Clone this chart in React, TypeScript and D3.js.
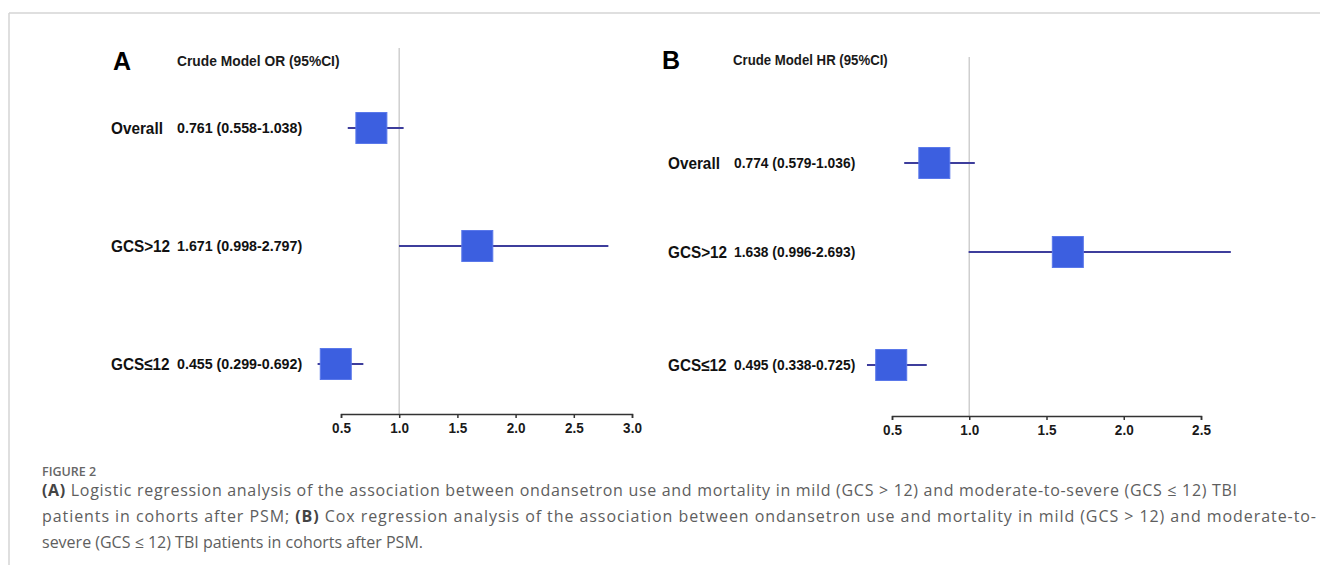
import React, { useRef, useEffect } from "react";
import * as d3 from "d3";

const rowLabels = ["Overall", "GCS>12", "GCS≤12"];

// panel A: logistic regression, odds ratios
const orEstimate = [0.761, 1.671, 0.455];
const orLower = [0.558, 0.998, 0.299];
const orUpper = [1.038, 2.797, 0.692];
const orTicks = [0.5, 1.0, 1.5, 2.0, 2.5, 3.0];

// panel B: cox regression, hazard ratios
const hrEstimate = [0.774, 1.638, 0.495];
const hrLower = [0.579, 0.996, 0.338];
const hrUpper = [1.036, 2.693, 0.725];
const hrTicks = [0.5, 1.0, 1.5, 2.0, 2.5];

const captionLines = [
  [
    { t: "(A)", b: true },
    {
      t: " Logistic regression analysis of the association between ondansetron use and mortality in mild (GCS > 12) and moderate-to-severe (GCS ≤ 12) TBI",
      b: false,
    },
  ],
  [
    { t: "patients in cohorts after PSM; ", b: false },
    { t: "(B)", b: true },
    {
      t: " Cox regression analysis of the association between ondansetron use and mortality in mild (GCS > 12) and moderate-to-",
      b: false,
    },
  ],
  [{ t: "severe (GCS ≤ 12) TBI patients in cohorts after PSM.", b: false }],
];

const W = 1320;
const H = 565;
const FONT = "'Liberation Sans', Arial, sans-serif";

interface PanelCfg {
  letter: string;
  title: string;
  est: number[];
  lo: number[];
  hi: number[];
  ticks: number[];
  range: [number, number];
  rowY: number[];
  letterX: number;
  titleX: number;
  titleY: number;
  labelX: number;
  valueX: number;
  refTop: number;
  axisY: number;
}

const panels: PanelCfg[] = [
  {
    letter: "A",
    title: "Crude Model OR (95%CI)",
    est: orEstimate,
    lo: orLower,
    hi: orUpper,
    ticks: orTicks,
    range: [341, 632],
    rowY: [128, 246, 364],
    letterX: 113,
    titleX: 177,
    titleY: 61,
    labelX: 111,
    valueX: 177,
    refTop: 48,
    axisY: 414,
  },
  {
    letter: "B",
    title: "Crude Model HR (95%CI)",
    est: hrEstimate,
    lo: hrLower,
    hi: hrUpper,
    ticks: hrTicks,
    range: [892, 1201],
    rowY: [163, 252, 365],
    letterX: 662,
    titleX: 733,
    titleY: 60,
    labelX: 668,
    valueX: 734,
    refTop: 57,
    axisY: 416,
  },
];

const fmt = d3.format(".3f");

// squeeze bold text a little, the original uses a narrow font
function condense(sel: d3.Selection<any, any, any, any>, k: number) {
  sel.each(function () {
    const node = this as SVGTextElement;
    const w = node.getComputedTextLength();
    d3.select(node).attr("textLength", w * k).attr("lengthAdjust", "spacingAndGlyphs");
  });
}

const App: React.FC = () => {
  const svgRef = useRef<SVGSVGElement | null>(null);

  useEffect(() => {
    if (!svgRef.current) return;
    const svg = d3.select(svgRef.current);
    svg.selectAll("*").remove();

    // frame lines
    svg
      .append("line")
      .attr("x1", 9)
      .attr("x2", W)
      .attr("y1", 13)
      .attr("y2", 13)
      .attr("stroke", "#d4d4d4")
      .attr("stroke-width", 1.5);
    svg
      .append("line")
      .attr("x1", 9)
      .attr("x2", 9)
      .attr("y1", 13)
      .attr("y2", H)
      .attr("stroke", "#d4d4d4")
      .attr("stroke-width", 1.5);

    panels.forEach((p) => {
      const x = d3
        .scaleLinear()
        .domain([p.ticks[0], p.ticks[p.ticks.length - 1]])
        .range(p.range);
      const g = svg.append("g");

      g.append("text")
        .attr("x", p.letterX)
        .attr("y", p.titleY + 9)
        .attr("font-family", FONT)
        .attr("font-weight", "bold")
        .attr("font-size", 25)
        .attr("fill", "#000")
        .text(p.letter);

      g.append("text")
        .attr("x", p.titleX)
        .attr("y", p.titleY + 5)
        .attr("font-family", FONT)
        .attr("font-weight", "bold")
        .attr("font-size", 15)
        .attr("fill", "#1a1a1a")
        .text(p.title)
        .call(condense, p.letter === "A" ? 0.92 : 0.88);

      // reference line at 1
      g.append("line")
        .attr("x1", x(1))
        .attr("x2", x(1))
        .attr("y1", p.refTop)
        .attr("y2", p.axisY)
        .attr("stroke", "#cfcfcf")
        .attr("stroke-width", 1.5);

      // x axis
      g.append("g")
        .attr("transform", `translate(0,${p.axisY})`)
        .call(
          d3
            .axisBottom(x)
            .tickValues(p.ticks)
            .tickSize(4)
            .tickSizeOuter(4)
            .tickPadding(4)
            .tickFormat(d3.format(".1f"))
        )
        .call((a) => a.select(".domain").attr("stroke", "#333").attr("stroke-width", 1.5))
        .call((a) => a.selectAll(".tick line").attr("stroke", "#333").attr("stroke-width", 1.5))
        .call((a) =>
          a
            .selectAll(".tick text")
            .attr("fill", "#1a1a1a")
            .attr("font-family", FONT)
            .attr("font-weight", "bold")
            .attr("font-size", 15)
            .call(condense, 0.9)
        );

      rowLabels.forEach((lab, i) => {
        const y = p.rowY[i];
        g.append("text")
          .attr("x", p.labelX)
          .attr("y", y + 6)
          .attr("font-family", FONT)
          .attr("font-weight", "bold")
          .attr("font-size", 17)
          .attr("fill", "#111")
          .text(lab)
          .call(condense, 0.9);
        g.append("text")
          .attr("x", p.valueX)
          .attr("y", y + 5)
          .attr("font-family", FONT)
          .attr("font-weight", "bold")
          .attr("font-size", 15)
          .attr("fill", "#111")
          .text(`${fmt(p.est[i])} (${fmt(p.lo[i])}-${fmt(p.hi[i])})`)
          .call(condense, p.letter === "A" ? 0.95 : 0.92);

        g.append("line")
          .attr("x1", x(p.lo[i]))
          .attr("x2", x(p.hi[i]))
          .attr("y1", y)
          .attr("y2", y)
          .attr("stroke", "#3d3d9c")
          .attr("stroke-width", 2);

        const s = 31;
        g.append("rect")
          .attr("x", x(p.est[i]) - s / 2)
          .attr("y", y - s / 2)
          .attr("width", s)
          .attr("height", s)
          .attr("fill", "#3c5fe0")
          .attr("stroke", "#5a78ea")
          .attr("stroke-width", 1);
      });
    });

    // caption
    svg
      .append("text")
      .attr("x", 42)
      .attr("y", 476)
      .attr("font-family", "'Open Sans', sans-serif")
      .attr("font-weight", 600)
      .attr("font-size", 12.5)
      .attr("fill", "#666")
      .text("FIGURE 2");

    const lineY = [496, 522, 548];
    const lineLen = [1195, 1274, 0];
    captionLines.forEach((parts, i) => {
      const t = svg
        .append("text")
        .attr("x", 42)
        .attr("y", lineY[i])
        .attr("font-family", "'Open Sans', sans-serif")
        .attr("font-size", 16)
        .attr("fill", "#5e5e5e");
      if (lineLen[i]) t.attr("textLength", lineLen[i]).attr("lengthAdjust", "spacing");
      parts.forEach((part) => {
        t.append("tspan")
          .attr("font-weight", part.b ? "bold" : "normal")
          .attr("fill", part.b ? "#444" : "#5e5e5e")
          .text(part.t);
      });
    });
  }, []);

  return (
    <div style={{ position: "absolute", left: 0, top: 0, width: W, height: H, background: "#fff" }}>
      <svg ref={svgRef} width={W} height={H} />
    </div>
  );
};

export default App;
